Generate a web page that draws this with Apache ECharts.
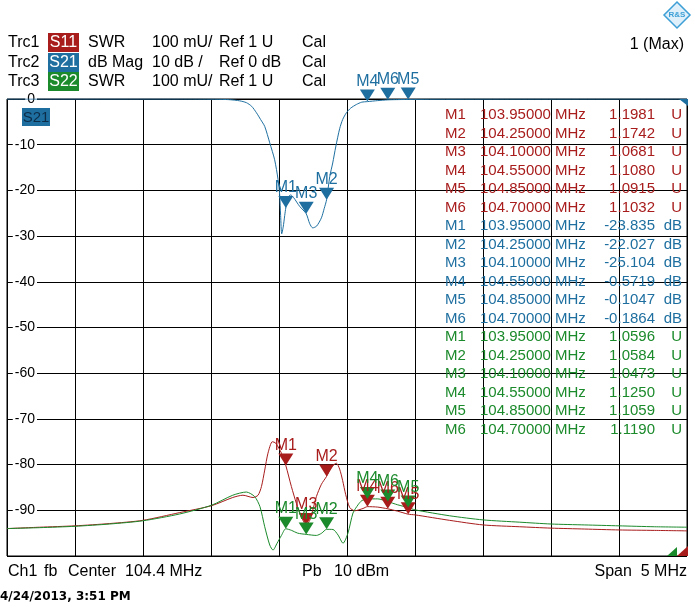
<!DOCTYPE html>
<html>
<head>
<meta charset="utf-8">
<script src="https://cdn.jsdelivr.net/npm/echarts@6/dist/echarts.min.js"></script>
<style>
  html, body { margin: 0; padding: 0; background: #fff; }
  #main { width: 695px; height: 613px; }
</style>
</head>
<body>
<div id="main"></div>
<script>
// centre frequency, MHz (axis runs centre -2.5 .. +2.5)
var CENTER = 104.4;

// Trc2: S21, dB Mag
var s21Freq = [101.9, 102.582, 103.17, 103.427, 103.537, 103.611, 103.66, 103.699, 103.734, 103.765,
  103.795, 103.832, 103.868, 103.893, 103.905, 103.912, 103.92, 103.931, 103.942, 103.95,
  103.966, 103.986, 104.008, 104.052, 104.1, 104.126, 104.148, 104.177, 104.212, 104.232,
  104.25, 104.273, 104.295, 104.317, 104.346, 104.368, 104.396, 104.427, 104.469, 104.508,
  104.55, 104.626, 104.7, 104.773, 104.85, 105.008, 105.523, 106.9];
var s21Db = [0, 0, 0, -0.05, -0.15, -0.4, -0.8, -1.6, -3.0, -4.5,
  -6.0, -9.6, -13.3, -17.6, -21.0, -25.5, -29.5, -28.0, -25.5, -23.835,
  -21.5, -21.0, -21.6, -23.5, -25.104, -27.3, -28.2, -27.8, -26.0, -24.0,
  -22.027, -17.0, -14.0, -10.5, -6.5, -4.5, -3.0, -2.0, -1.2, -0.7,
  -0.5719, -0.35, -0.1864, -0.13, -0.1047, -0.05, -0.02, 0];

// Trc1: S11, SWR
var s11Freq = [101.9, 102.14, 102.4, 102.655, 102.898, 103.17, 103.403, 103.56, 103.635, 103.709,
  103.746, 103.771, 103.795, 103.819, 103.851, 103.876, 103.918, 103.95, 103.991, 104.028,
  104.065, 104.1, 104.126, 104.148, 104.175, 104.212, 104.25, 104.287, 104.322, 104.346,
  104.368, 104.39, 104.42, 104.457, 104.518, 104.55, 104.626, 104.7, 104.773, 104.85,
  104.9, 105.155, 105.4, 105.67, 105.9, 106.148, 106.4, 106.662, 106.9];
var s11Swr = [1.060, 1.063, 1.066, 1.071, 1.078, 1.095, 1.110, 1.128, 1.133, 1.128,
  1.133, 1.152, 1.188, 1.225, 1.250, 1.247, 1.225, 1.1981, 1.152, 1.115,
  1.085, 1.0681, 1.078, 1.100, 1.130, 1.157, 1.1742, 1.195, 1.203, 1.190,
  1.165, 1.135, 1.106, 1.099, 1.104, 1.1080, 1.107, 1.1032, 1.098, 1.0915,
  1.090, 1.078, 1.068, 1.064, 1.061, 1.059, 1.057, 1.056, 1.055];

// Trc3: S22, SWR
var s22Freq = [101.9, 102.14, 102.4, 102.655, 102.898, 103.17, 103.403, 103.56, 103.66, 103.721,
  103.76, 103.795, 103.832, 103.856, 103.886, 103.918, 103.95, 103.993, 104.037, 104.1,
  104.175, 104.214, 104.25, 104.297, 104.334, 104.371, 104.407, 104.444, 104.481, 104.508,
  104.55, 104.626, 104.7, 104.773, 104.85, 104.9, 105.155, 105.4, 105.67, 105.9,
  106.148, 106.4, 106.662, 106.9];
var s22Swr = [1.060, 1.062, 1.065, 1.070, 1.077, 1.092, 1.111, 1.133, 1.140, 1.130,
  1.108, 1.064, 1.024, 1.013, 1.028, 1.045, 1.0596, 1.056, 1.050, 1.0473,
  1.045, 1.050, 1.0584, 1.058, 1.046, 1.028, 1.050, 1.094, 1.112, 1.121,
  1.1250, 1.125, 1.1190, 1.112, 1.1059, 1.101, 1.088, 1.079, 1.074, 1.070,
  1.068, 1.066, 1.064, 1.063];

// markers
var markerNames = ["M1", "M2", "M3", "M4", "M5", "M6"];
var markerFreq = [103.95, 104.25, 104.10, 104.55, 104.85, 104.70];
var s11Markers = [1.1981, 1.1742, 1.0681, 1.1080, 1.0915, 1.1032];
var s21Markers = [-23.835, -22.027, -25.104, -0.5719, -0.1047, -0.1864];
var s22Markers = [1.0596, 1.0584, 1.0473, 1.1250, 1.1059, 1.1190];

var dbTicks = [0, -10, -20, -30, -40, -50, -60, -70, -80, -90];

var RED = "#a81c1c";
var BLUE = "#1e6fa0";
var GREEN = "#1b8a2b";
var FONT = '"Liberation Sans", Arial, sans-serif';

function pairs(fs, vs) {
  return fs.map(function (f, i) { return [+(f - CENTER).toFixed(4), vs[i]]; });
}
function markerData(vs) {
  return markerFreq.map(function (f, i) {
    return { name: markerNames[i], value: [+(f - CENTER).toFixed(4), vs[i]] };
  });
}
function fmtVal(v) {
  return Math.abs(v) >= 1 ? v.toPrecision(5) : v.toPrecision(4);
}
function txt(x, y, s, color, extra) {
  var st = { text: s, x: x, y: y, fill: color || "#000", font: "15px " + FONT, textVerticalAlign: "middle" };
  for (var k in extra) st[k] = extra[k];
  return { type: "text", z: 100, style: st };
}

var dom = document.getElementById("main");
var myChart = echarts.init(dom, null, { renderer: "canvas" });

var graphics = [];
// header
var hdr = [
  ["Trc1", "S11", RED, "SWR", "100 mU/", "Ref 1 U"],
  ["Trc2", "S21", BLUE, "dB Mag", "10 dB /", "Ref 0 dB"],
  ["Trc3", "S22", GREEN, "SWR", "100 mU/", "Ref 1 U"]
];
var rowTop = [33, 53, 72];
hdr.forEach(function (r, i) {
  var cy = rowTop[i] + 10;
  graphics.push(txt(8, cy, r[0], "#000", { font: "16px " + FONT }));
  graphics.push({ type: "rect", z: 99, shape: { x: 48, y: rowTop[i], width: 31, height: 19 }, style: { fill: r[2] } });
  graphics.push(txt(63.5, cy, r[1], "#fff", { textAlign: "center", font: "16px " + FONT }));
  graphics.push(txt(88, cy, r[3], "#000", { font: "16px " + FONT }));
  graphics.push(txt(152, cy, r[4], "#000", { font: "16px " + FONT }));
  graphics.push(txt(219, cy, r[5], "#000", { font: "16px " + FONT }));
  graphics.push(txt(302, cy, "Cal", "#000", { font: "16px " + FONT }));
});
graphics.push(txt(684, 45, "1 (Max)", "#000", { textAlign: "right", font: "16px " + FONT }));

// R&S logo
graphics.push({ type: "polygon", z: 99, shape: { points: [[677, 2], [690, 15], [677, 28], [664, 15]] },
  style: { fill: "#dff0fa", stroke: "#3d9fd6", lineWidth: 1.5 } });
graphics.push(txt(677, 15, "R&S", "#3d9fd6", { textAlign: "center", font: "bold 8px " + FONT }));

// S21 tag inside the diagram
graphics.push({ type: "rect", z: 99, shape: { x: 22, y: 108, width: 28, height: 18 }, style: { fill: BLUE } });
graphics.push(txt(36, 117.5, "S21", "#0c2c48", { textAlign: "center" }));

// marker table
var tables = [[s11Markers, RED, "U"], [s21Markers, BLUE, "dB"], [s22Markers, GREEN, "U"]];
var row = 0;
tables.forEach(function (t) {
  markerNames.forEach(function (n, i) {
    var y = 115 + row * 18.5;
    graphics.push(txt(445, y, n, t[1]));
    graphics.push(txt(480, y, markerFreq[i].toFixed(5), t[1]));
    graphics.push(txt(555, y, "MHz", t[1]));
    graphics.push(txt(655, y, fmtVal(t[0][i]), t[1], { textAlign: "right" }));
    graphics.push(txt(682, y, t[2], t[1], { textAlign: "right" }));
    row++;
  });
});

// corner indicators
graphics.push({ type: "polygon", z: 99, shape: { points: [[679, 99], [688, 99], [688, 106]] }, style: { fill: BLUE } });
graphics.push({ type: "polygon", z: 99, shape: { points: [[667, 556], [677, 547], [677, 556]] }, style: { fill: GREEN } });
graphics.push({ type: "polygon", z: 99, shape: { points: [[677, 556], [688, 546], [688, 556]] }, style: { fill: RED } });

// footer
graphics.push(txt(8, 572, "Ch1", "#000", { font: "16px " + FONT }));
graphics.push(txt(44, 572, "fb", "#000", { font: "16px " + FONT }));
graphics.push(txt(68, 572, "Center", "#000", { font: "16px " + FONT }));
graphics.push(txt(125, 572, "104.4 MHz", "#000", { font: "16px " + FONT }));
graphics.push(txt(302, 572, "Pb", "#000", { font: "16px " + FONT }));
graphics.push(txt(334, 572, "10 dBm", "#000", { font: "16px " + FONT }));
graphics.push(txt(687, 572, "Span  5 MHz", "#000", { textAlign: "right", font: "16px " + FONT }));
graphics.push(txt(0, 597, "4/24/2013, 3:51 PM", "#000", { font: 'bold 12px "DejaVu Sans", sans-serif' }));

function markerSeries(vs, color, axis) {
  return {
    type: "scatter",
    yAxisIndex: axis,
    clip: false,
    z: 5,
    symbol: "path://M0,0L14,0L7,12Z",
    symbolSize: [15, 12],
    symbolOffset: [0, -6],
    itemStyle: { color: color, opacity: 1 },
    label: {
      show: true, position: "top", distance: 0, formatter: "{b}",
      color: color, fontSize: 16, fontFamily: FONT
    },
    data: markerData(vs)
  };
}
function traceSeries(fs, vs, color, axis) {
  return {
    type: "line",
    yAxisIndex: axis,
    showSymbol: false,
    smooth: 0.25,
    lineStyle: { color: color, width: 1 },
    data: pairs(fs, vs)
  };
}

var option = {
  backgroundColor: "#fff",
  animation: false,
  grid: { left: 7, top: 99, width: 680, height: 457, show: true, borderColor: "#000", borderWidth: 1, backgroundColor: "#fff" },
  xAxis: {
    type: "value", min: -2.5, max: 2.5, interval: 0.5,
    axisLine: { show: false }, axisTick: { show: false }, axisLabel: { show: false },
    splitLine: { show: true, lineStyle: { color: "#000", width: 1 } }
  },
  yAxis: [
    {
      type: "value", min: -100, max: 0, interval: 10,
      axisLine: { show: false }, axisTick: { show: false },
      splitLine: { show: true, lineStyle: { color: "#000", width: 1 } },
      axisLabel: {
        inside: true, margin: 30, align: "right", showMinLabel: false,
        color: "#000", fontSize: 14, fontFamily: FONT,
        backgroundColor: "#fff", padding: [0, 2],
        formatter: function (v) { return dbTicks.indexOf(v) >= 0 ? String(v) : ""; }
      }
    },
    {
      type: "value", min: 1, max: 2, show: false, splitLine: { show: false }
    }
  ],
  series: [
    traceSeries(s11Freq, s11Swr, RED, 1),
    traceSeries(s22Freq, s22Swr, GREEN, 1),
    traceSeries(s21Freq, s21Db, BLUE, 0),
    markerSeries(s11Markers, RED, 1),
    markerSeries(s22Markers, GREEN, 1),
    markerSeries(s21Markers, BLUE, 0)
  ],
  graphic: graphics
};

if (option && typeof option === "object") {
  myChart.setOption(option);
}
window.addEventListener("resize", myChart.resize);
</script>
</body>
</html>
